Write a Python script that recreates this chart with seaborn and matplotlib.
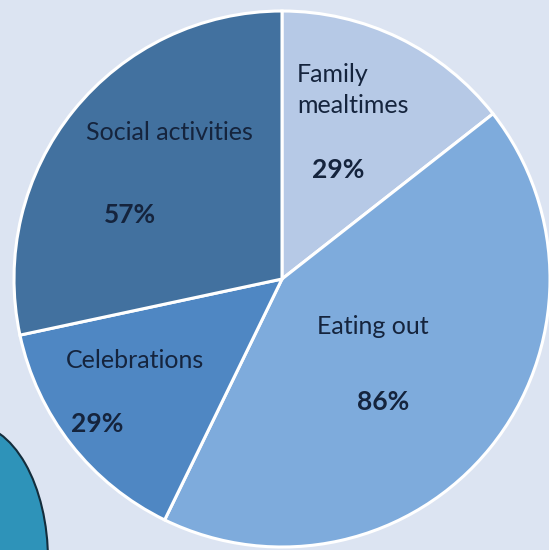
import matplotlib
matplotlib.use("Agg")
import matplotlib.pyplot as plt
from matplotlib.patches import Ellipse
import seaborn as sns

categories = ["Family mealtimes", "Eating out", "Celebrations", "Social activities"]
label_text = ["Family\nmealtimes", "Eating out", "Celebrations", "Social activities"]
values = [29, 86, 29, 57]
pct_labels = ["29%", "86%", "29%", "57%"]

sns.set_theme(style="white")
plt.rcParams["font.family"] = ["Lato", "DejaVu Sans"]

colors = ["#b6c9e6", "#7eabdc", "#4f87c3", "#42719f"]
bg = "#dce4f2"
txt = "#15243d"

W, H = 549, 550
fig = plt.figure(figsize=(W / 100, H / 100), dpi=100, facecolor=bg)

# decorative teal shape at bottom-left
deco = fig.add_axes([0, 0, 1, 1], facecolor="none")
deco.set_xlim(0, W); deco.set_ylim(H, 0); deco.axis("off")
deco.add_patch(Ellipse((-30, 560), 156, 273, facecolor="#2e93b9", edgecolor="#142d3c", lw=1.5))

cx, cy, r = 282, 279, 268
ax = fig.add_axes([(cx - r) / W, (H - cy - r) / H, 2 * r / W, 2 * r / H], facecolor="none")
ax.pie(values, colors=colors, startangle=90, counterclock=False,
       wedgeprops=dict(edgecolor="white", linewidth=2.2))
ax.set_xlim(-1, 1); ax.set_ylim(-1, 1)
ax.set_aspect("equal")
ax.axis("off")

def px(x, y):
    return ((x - cx) / r, (cy - y) / r)

name_pos = [(297, 90, "left"), (373, 327, "center"), (135, 360, "center"), (169, 132, "center")]
pct_pos = [(338, 170), (383, 402), (97, 424), (130, 215)]
for lab, (x, y, ha), pct, (x2, y2) in zip(label_text, name_pos, pct_labels, pct_pos):
    ax.text(*px(x, y), lab, ha=ha, va="center", fontsize=18, color=txt, linespacing=1.38)
    ax.text(*px(x2, y2), pct, ha="center", va="center", fontsize=19, fontweight="bold", color=txt)

fig.savefig("out.png", dpi=100, facecolor=bg)
